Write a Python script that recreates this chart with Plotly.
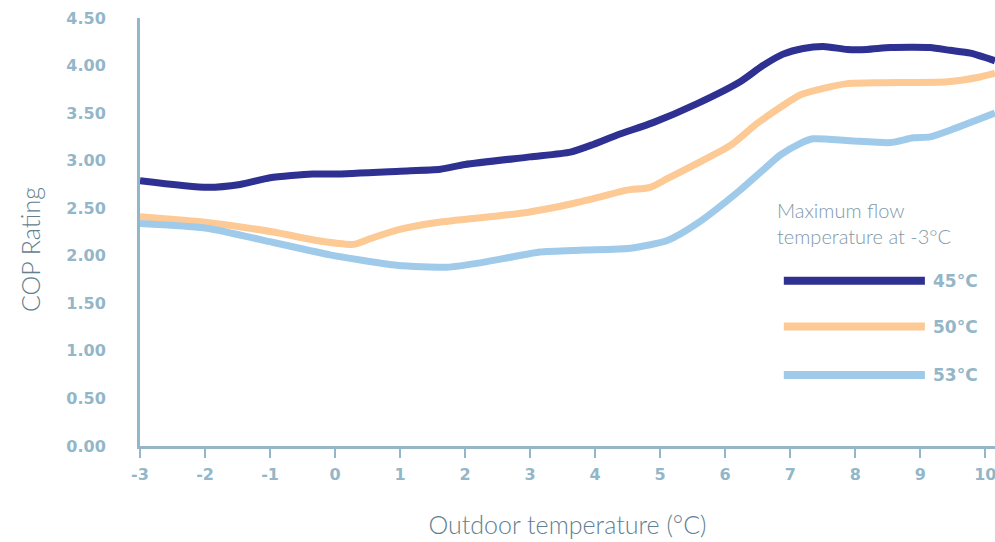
import plotly.graph_objects as go

# Outdoor temperature (°C) and COP values
x_45 = [-3.0, -1.97, -1.46, -1.0, -0.35, 0.0, 1.0, 1.62, 2.0, 3.0, 3.62, 3.97, 4.34, 4.89, 5.57, 6.23, 6.58, 6.89, 7.2, 7.51, 7.88, 8.18, 8.54, 9.15, 9.46, 9.77, 10.15]
cop_45 = [2.79, 2.72, 2.75, 2.82, 2.86, 2.86, 2.89, 2.91, 2.96, 3.04, 3.09, 3.17, 3.27, 3.40, 3.60, 3.83, 4.00, 4.12, 4.18, 4.20, 4.17, 4.17, 4.19, 4.19, 4.16, 4.13, 4.05]

x_50 = [-3.0, -1.97, -0.95, -0.28, 0.28, 0.54, 0.95, 1.57, 2.38, 2.89, 3.31, 3.66, 4.08, 4.49, 4.85, 5.11, 5.51, 6.08, 6.49, 6.89, 7.15, 7.51, 7.88, 8.43, 9.42, 9.92, 10.15]
cop_50 = [2.41, 2.35, 2.25, 2.16, 2.12, 2.18, 2.27, 2.35, 2.41, 2.45, 2.50, 2.55, 2.62, 2.69, 2.72, 2.81, 2.95, 3.16, 3.39, 3.58, 3.69, 3.76, 3.81, 3.82, 3.83, 3.88, 3.92]

x_53 = [-3.0, -1.97, -0.95, -0.08, 0.95, 1.72, 2.18, 2.74, 3.15, 3.82, 4.54, 5.11, 5.57, 6.23, 6.58, 6.85, 7.15, 7.35, 7.92, 8.54, 8.89, 9.15, 9.46, 10.15]
cop_53 = [2.34, 2.29, 2.14, 2.01, 1.90, 1.88, 1.92, 1.99, 2.04, 2.06, 2.08, 2.16, 2.34, 2.69, 2.90, 3.06, 3.18, 3.23, 3.21, 3.19, 3.24, 3.25, 3.32, 3.50]

x_ticks = list(range(-3, 11))
y_ticks = [0, 0.5, 1, 1.5, 2, 2.5, 3, 3.5, 4, 4.5]
y_tick_labels = [f"{v:.2f}" for v in y_ticks]

series_names = ["45°C", "50°C", "53°C"]
colors = ["#2e3192", "#fdc994", "#9fcaea"]
legend_title = "Maximum flow<br>temperature at -3°C"
x_title = "Outdoor temperature (°C)"
y_title = "COP Rating"

axis_color = "#93b6c8"
tick_color = "#93b6c8"
title_color = "#62808f"
tick_family = "'DejaVu Sans', sans-serif"
text_family = "Lato, 'Open Sans', sans-serif"

fig = go.Figure()
for xs, ys, name, c in zip([x_45, x_50, x_53], [cop_45, cop_50, cop_53], series_names, colors):
    fig.add_trace(go.Scatter(x=xs, y=ys, mode="lines", name=name,
                             line=dict(color=c, width=7, shape="spline", smoothing=0.6),
                             cliponaxis=True, showlegend=False, hoverinfo="skip"))

# Custom legend (shapes + annotations)
fig.add_annotation(xref="paper", yref="paper", x=0.743, y=0.52, xanchor="left", yanchor="middle",
                   text=legend_title, showarrow=False, align="left",
                   font=dict(family=text_family, size=20, color="#8199a7", weight=300))
leg_y = [0.386, 0.279, 0.166]
for name, c, yy in zip(series_names, colors, leg_y):
    fig.add_shape(type="line", xref="paper", yref="paper", x0=0.753, x1=0.918, y0=yy, y1=yy,
                  line=dict(color=c, width=8))
    fig.add_annotation(xref="paper", yref="paper", x=0.925, y=yy, xanchor="left", yanchor="middle",
                       text=name, showarrow=False,
                       font=dict(family=tick_family, size=17, color=tick_color, weight=600))

# Y axis title (placed as annotation to match its offset position)
fig.add_annotation(xref="paper", yref="paper", x=-0.1287, y=0.46, xanchor="center", yanchor="middle",
                   text=y_title, showarrow=False, textangle=-90,
                   font=dict(family=text_family, size=25, color=title_color, weight=300))

fig.update_layout(
    width=995, height=542,
    margin=dict(l=140, r=0, t=18, b=96),
    paper_bgcolor="white", plot_bgcolor="white",
    font=dict(family=text_family),
    hovermode=False,
    xaxis=dict(range=[-3, 10.15], tickvals=x_ticks, ticktext=[str(v) for v in x_ticks],
               automargin=False, ticklabeloverflow="allow",
               showgrid=False, zeroline=False, showline=True, linecolor=axis_color, linewidth=3,
               ticks="outside", ticklen=9, tickwidth=2, tickcolor=axis_color,
               ticklabelstandoff=3,
               tickfont=dict(family=tick_family, size=16, color=tick_color, weight=600),
               title=dict(text=x_title,
                          font=dict(size=25, color=title_color, weight=300), standoff=34)),
    yaxis=dict(range=[0, 4.5], tickvals=y_ticks, ticktext=y_tick_labels,
               automargin=False,
               showgrid=False, zeroline=False, showline=True, linecolor=axis_color, linewidth=3,
               ticks="", ticklabelstandoff=28,
               tickfont=dict(family=tick_family, size=16, color=tick_color, weight=600)),
)

fig.write_html("out.html", config={"displayModeBar": False},
               post_script="document.body.style.margin='0px';document.body.style.overflow='hidden';")
